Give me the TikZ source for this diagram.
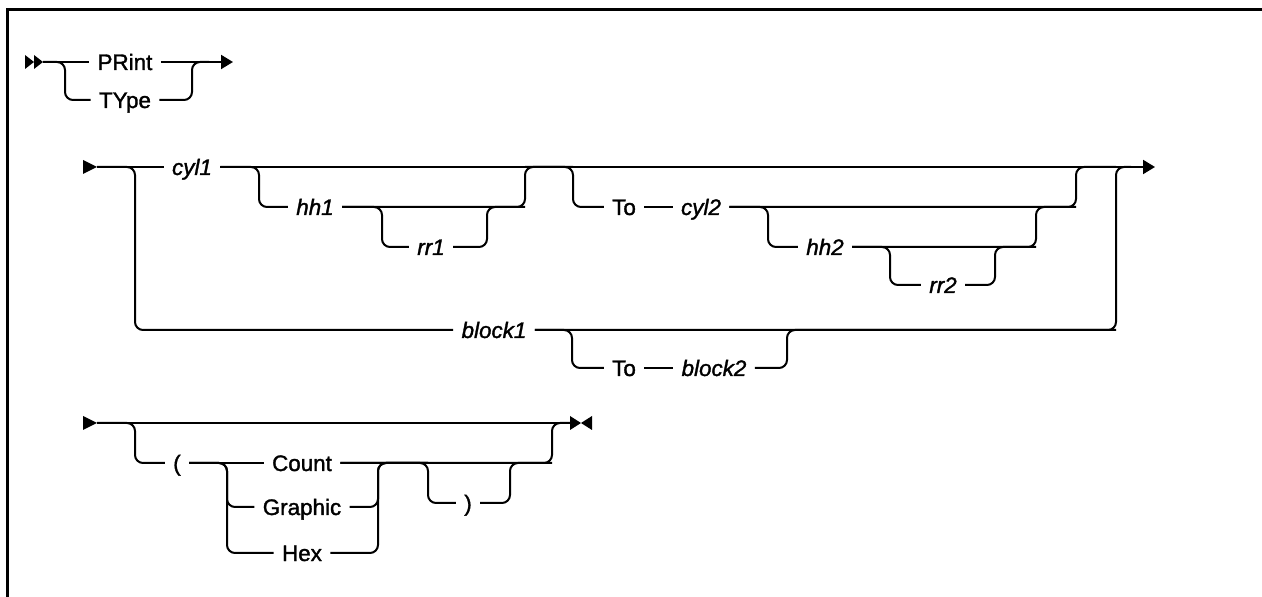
\documentclass[tikz,border=0pt]{standalone}
\usepackage{fontspec}
\setmainfont{Liberation Sans}[FakeBold=1.5]
\usepackage{tikz}
\usetikzlibrary{arrows.meta,calc}
\tikzstyle{rail} = [line width=1pt, rounded corners=4pt]
\tikzstyle{railend} = [rail, -{Triangle[length=6pt,width=7pt]}]
\tikzstyle{kw} = [font=\fontsize{11.2}{13}\selectfont, inner xsep=4pt, inner ysep=0pt, text height=8pt, text depth=0pt]
\tikzstyle{var} = [kw, font=\fontsize{11.2}{13}\selectfont\itshape]

\begin{document}
\begin{tikzpicture}[x=0.5pt, y=-0.5pt]
    \useasboundingbox (0,0) rectangle (1262,597);
    % Frame
    \draw[line width=1.5pt] (7,597) -- (7,10) -- (1262,10);

    % Command name
    \coordinate (s1) at (43,62);
    \coordinate (j1) at (192,62);
    \coordinate (e1) at (233,62);
    \node[kw] (print) at (125,62) {PRint};
    \node[kw] (type) at (125,100) {TYpe};
    \fill (s1) -- ++(-9,-7) -- ++(0,14) -- cycle;
    \fill ($(s1)+(-9,0)$) -- ++(-9,-7) -- ++(0,14) -- cycle;
    \draw[rail] (s1) -- (print);
    \draw[railend] (print) -- (e1);
    \draw[rail] (s1) -- (65,62) |- (type);
    \draw[rail, shorten >=12pt] (type) -| (j1) -- (e1);

    % Range
    \coordinate (s2) at (97,167);
    \coordinate (e2) at (1155,167);
    \coordinate (f2) at (135,167);
    \coordinate (fh1) at (259,167);
    \coordinate (fr1) at (382,207);
    \coordinate (jr1) at (487,207);
    \coordinate (jh1) at (525,167);
    \coordinate (fto) at (573,167);
    \coordinate (fh2) at (768,207);
    \coordinate (fr2) at (890,247);
    \coordinate (jr2) at (995,247);
    \coordinate (jh2) at (1036,207);
    \coordinate (jto) at (1076,167);
    \coordinate (jb1) at (1116,167);
    \coordinate (fb2) at (572,330);
    \coordinate (jb2) at (787,330);
    \node[var] (cyl1) at (192,167) {cyl1};
    \node[var] (hh1) at (315,207) {hh1};
    \node[var] (rr1) at (431,247) {rr1};
    \node[kw] (to1) at (624,207) {To};
    \node[var] (cyl2) at (701,207) {cyl2};
    \node[var] (hh2) at (825,247) {hh2};
    \node[var] (rr2) at (943,285) {rr2};
    \node[var] (block1) at (494,330) {block1};
    \node[kw] (to2) at (624,368) {To};
    \node[var] (block2) at (714,368) {block2};
    \fill (s2) -- ++(-14,-7) -- ++(0,14) -- cycle;
    \draw[rail] (s2) -- (cyl1);
    \draw[railend] (cyl1) -- (e2);
    \draw[rail] (cyl1) -- (fh1) |- (hh1);
    \draw[rail] (hh1) -- (fr1) |- (rr1);
    \draw[rail] (rr1) -| (jr1) -- (jh1 |- jr1);
    \draw[rail] (hh1) -| (jh1) -- (fto);
    \draw[rail] (jh1) -- (fto) |- (to1);
    \draw[rail] (to1) -- (cyl2);
    \draw[rail] (cyl2) -- (fh2) |- (hh2);
    \draw[rail] (hh2) -- (fr2) |- (rr2);
    \draw[rail] (rr2) -| (jr2) -- (jh2 |- jr2);
    \draw[rail] (hh2) -| (jh2) -- (jto |- jh2);
    \draw[rail] (cyl2) -| (jto) -- (jb1);
    \draw[rail] (s2) -- (f2) |- (block1);
    \draw[rail] (block1) -- (fb2) |- (to2);
    \draw[rail] (to2) -- (block2);
    \draw[rail] (block2) -| (jb2) -- (jb1 |- jb2);
    \draw[rail, shorten >=12pt] (block1) -| (jb1) -- (e2);

    % Options
    \coordinate (s3) at (97,423);
    \coordinate (e3) at (570,423);
    \coordinate (f3) at (135,423);
    \coordinate (fc) at (227,463);
    \coordinate (jc) at (378,463);
    \coordinate (fp) at (428,463);
    \coordinate (jp) at (510,463);
    \coordinate (jo) at (552,423);
    \node[kw] (lparen) at (177,463) {(};
    \node[kw] (count) at (302,463) {Count};
    \node[kw] (graphic) at (302,507) {Graphic};
    \node[kw] (hex) at (302,553) {Hex};
    \node[kw] (rparen) at (468,503) {)};
    \fill (s3) -- ++(-14,-7) -- ++(0,14) -- cycle;
    \draw[rail] (s3) -- (e3);
    \draw[rail] (s3) -- (f3) |- (lparen);
    \draw[rail] (lparen) -- (count);
    \draw[rail] (lparen) -- (fc) |- (graphic);
    \draw[rail] (lparen) -- (fc) |- (hex);
    \draw[rail] (graphic) -| (jc) -- (fp);
    \draw[rail] (hex) -| (jc) -- (fp);
    \draw[rail] (count) -- (fp) |- (rparen);
    \draw[rail] (rparen) -| (jp) -- (jo |- jp);
    \draw[rail] (count) -| (jo) -- (e3);
    \fill (e3) -- ++(0,-7) -- ++(11,7) -- ++(11,-7) -- ++(0,14) -- ++(-11,-7) -- ++(-11,7) -- cycle;
\end{tikzpicture}
\end{document}
